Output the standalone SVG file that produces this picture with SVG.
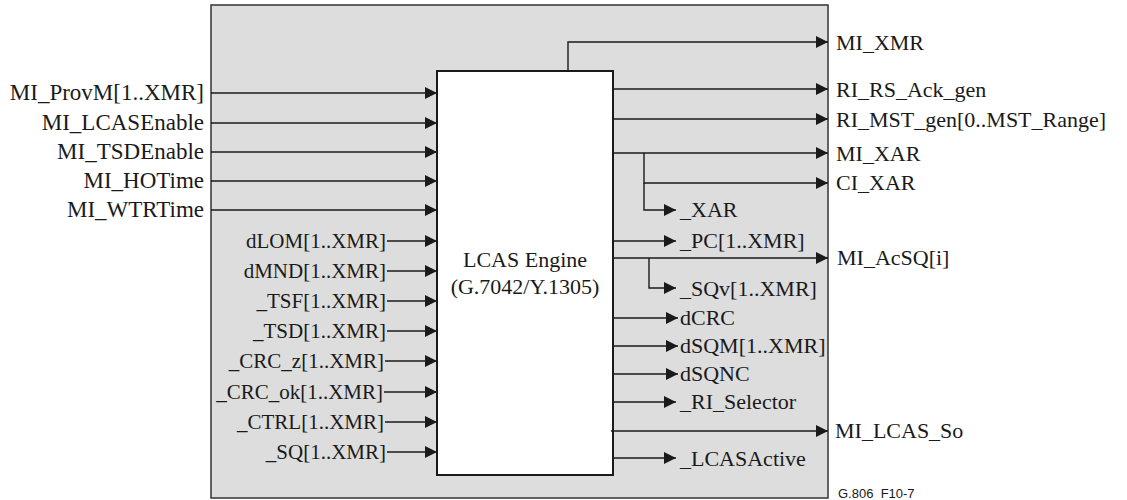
<svg xmlns="http://www.w3.org/2000/svg" width="1127" height="500" viewBox="0 0 1127 500">
<style>
text{font-family:'Liberation Serif','Times New Roman',Times,'DejaVu Serif',serif}
.t{font-size:22px;fill:#1a1a1a}
.to{font-size:23px;fill:#1a1a1a}
.ti{font-size:21px;fill:#1a1a1a}
.r{text-anchor:end}
.c{text-anchor:middle}
.ln{fill:none;stroke:#1a1a1a;stroke-width:1.4;marker-end:url(#ah)}
text.small{font-family:'Liberation Sans',Arial,sans-serif;font-size:13px;fill:#1a1a1a;white-space:pre}
</style>
<defs>
<marker id="ah" markerUnits="userSpaceOnUse" markerWidth="13" markerHeight="12" refX="12" refY="6" orient="auto">
<path d="M0,0 L12,6 L0,12 z" fill="#1a1a1a"/>
</marker>
</defs>
<rect width="1127" height="500" fill="#ffffff"/>
<g id="container">
<rect x="211" y="5" width="617" height="493" fill="#dddddd" stroke="#333333" stroke-width="1.5"/>
</g>
<g id="engine">
<rect x="437" y="71" width="176" height="404" fill="#ffffff" stroke="#1a1a1a" stroke-width="2"/>
<text class="t c" x="525" y="267">LCAS Engine</text>
<text class="t c" x="525" y="294">(G.7042/Y.1305)</text>
</g>
<g id="connectors">
<path class="ln" d="M211,93 H437"/>
<path class="ln" d="M211,123 H437"/>
<path class="ln" d="M211,152 H437"/>
<path class="ln" d="M211,181 H437"/>
<path class="ln" d="M211,210 H437"/>
<path class="ln" d="M387,241 H437"/>
<path class="ln" d="M387,271 H437"/>
<path class="ln" d="M387,301 H437"/>
<path class="ln" d="M387,331 H437"/>
<path class="ln" d="M385,361 H437"/>
<path class="ln" d="M384,392 H437"/>
<path class="ln" d="M385,422 H437"/>
<path class="ln" d="M387,452 H437"/>
<path class="ln" d="M568,71 V42 H828"/>
<path class="ln" d="M613,89 H828"/>
<path class="ln" d="M613,119 H828"/>
<path class="ln" d="M613,153 H828"/>
<path class="ln" d="M644,153 V183 H828"/>
<path class="ln" d="M644,183 V210 H676"/>
<path class="ln" d="M613,241 H676"/>
<path class="ln" d="M613,258 H828"/>
<path class="ln" d="M649,258 V288 H676"/>
<path class="ln" d="M613,318 H678"/>
<path class="ln" d="M613,346 H678"/>
<path class="ln" d="M613,374 H678"/>
<path class="ln" d="M613,402 H676"/>
<path class="ln" d="M611,431 H828"/>
<path class="ln" d="M613,458 H676"/>
</g>
<g id="inputs-outer">
<text class="to r" x="204" y="100">MI_ProvM[1..XMR]</text>
<text class="to r" x="204" y="130">MI_LCASEnable</text>
<text class="to r" x="204" y="159">MI_TSDEnable</text>
<text class="to r" x="204" y="188">MI_HOTime</text>
<text class="to r" x="204" y="217">MI_WTRTime</text>
</g>
<g id="inputs-inner">
<text class="ti r" x="386" y="248">dLOM[1..XMR]</text>
<text class="ti r" x="386" y="278">dMND[1..XMR]</text>
<text class="ti r" x="386" y="308">_TSF[1..XMR]</text>
<text class="ti r" x="386" y="338">_TSD[1..XMR]</text>
<text class="ti r" x="384" y="368">_CRC_z[1..XMR]</text>
<text class="ti r" x="383" y="399">_CRC_ok[1..XMR]</text>
<text class="ti r" x="384" y="429">_CTRL[1..XMR]</text>
<text class="ti r" x="386" y="459">_SQ[1..XMR]</text>
</g>
<g id="outputs-outer">
<text class="t" x="836" y="50">MI_XMR</text>
<text class="t" x="836" y="97">RI_RS_Ack_gen</text>
<text class="t" x="836" y="127">RI_MST_gen[0..MST_Range]</text>
<text class="t" x="836" y="161">MI_XAR</text>
<text class="t" x="836" y="190">CI_XAR</text>
<text class="t" x="837" y="265">MI_AcSQ[i]</text>
<text class="t" x="835" y="438">MI_LCAS_So</text>
</g>
<g id="outputs-inner">
<text class="t" x="680" y="217">_XAR</text>
<text class="t" x="680" y="248">_PC[1..XMR]</text>
<text class="t" x="680" y="296">_SQv[1..XMR]</text>
<text class="t" x="680" y="325">dCRC</text>
<text class="t" x="680" y="353">dSQM[1..XMR]</text>
<text class="t" x="680" y="381">dSQNC</text>
<text class="t" x="680" y="409">_RI_Selector</text>
<text class="t" x="680" y="466">_LCASActive</text>
</g>
<g id="label">
<text class="small" x="838" y="498">G.806  F10-7</text>
</g>
</svg>
